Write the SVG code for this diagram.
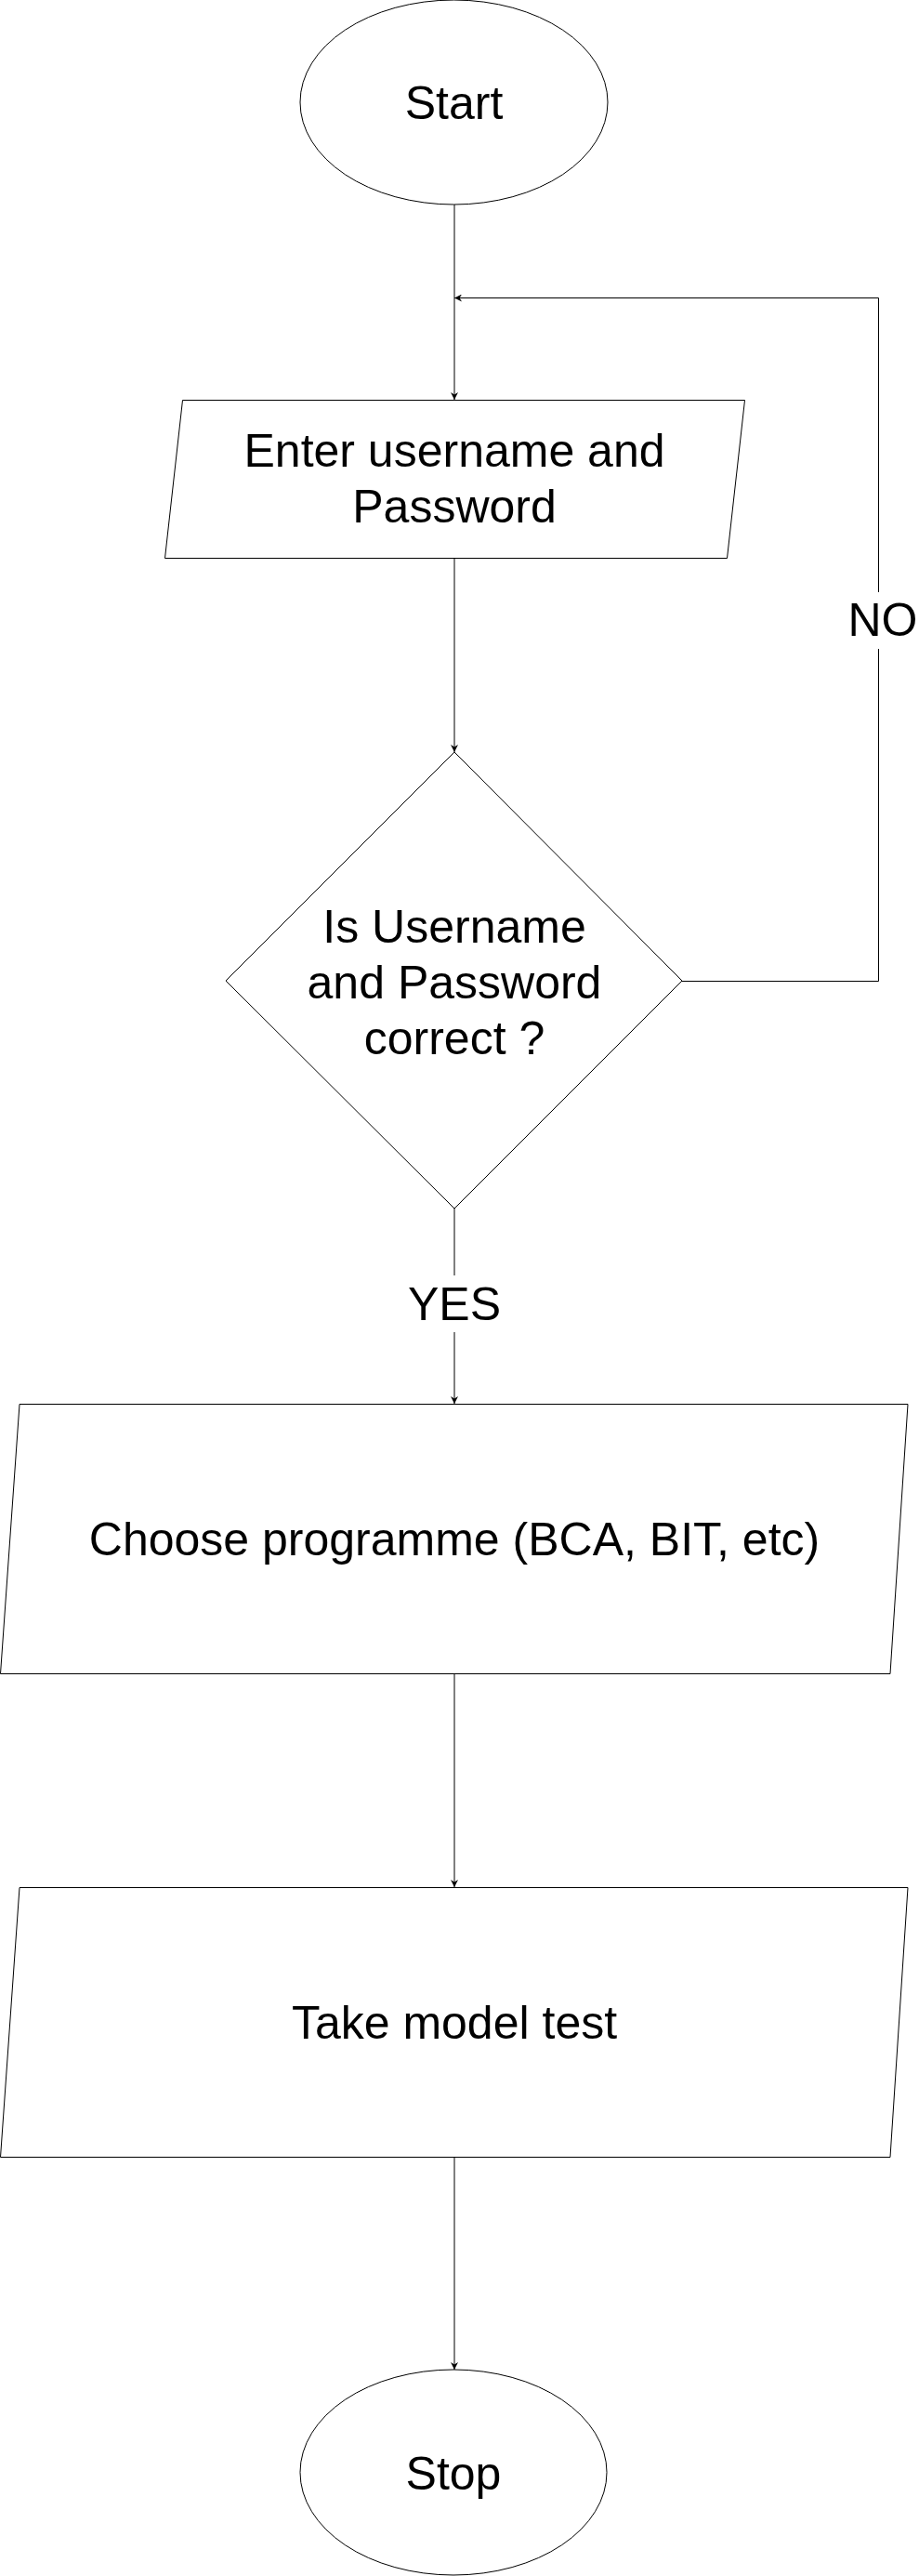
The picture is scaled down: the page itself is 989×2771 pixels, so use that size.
<svg xmlns="http://www.w3.org/2000/svg" width="989" height="2771" viewBox="0 0 989 2771">
<style>
.shape{fill:#fff;stroke:#000;stroke-width:1}
.lbl{font-family:"Liberation Sans",Arial,sans-serif;font-size:50px;fill:#000;text-anchor:middle}
.conn{fill:none;stroke:#000;stroke-width:1}
</style>
<defs>
<marker id="arr" viewBox="0 0 10 10" refX="10" refY="5" markerWidth="8" markerHeight="8" markerUnits="userSpaceOnUse" orient="auto">
<path d="M0,0 L10,5 L0,10 L3,5 Z" fill="#000"/>
</marker>
</defs>
<rect width="989" height="2771" fill="#fff"/>
<g id="connectors">
<line class="conn" x1="489" y1="220" x2="489" y2="430" marker-end="url(#arr)"/>
<line class="conn" x1="489" y1="600" x2="489" y2="809" marker-end="url(#arr)"/>
<polyline class="conn" points="734,1055.5 945.5,1055.5 945.5,698"/>
<polyline class="conn" points="945.5,637 945.5,320.5 489,320.5" marker-end="url(#arr)"/>
<line class="conn" x1="489" y1="1300" x2="489" y2="1372"/>
<line class="conn" x1="489" y1="1433" x2="489" y2="1510" marker-end="url(#arr)"/>
<line class="conn" x1="489" y1="1800" x2="489" y2="2030" marker-end="url(#arr)"/>
<line class="conn" x1="489" y1="2320" x2="489" y2="2549" marker-end="url(#arr)"/>
<text class="lbl" x="950" y="684">NO</text>
<text class="lbl" x="489" y="1420">YES</text>
</g>
<g id="start">
<ellipse class="shape" cx="488.5" cy="110" rx="165.5" ry="110"/>
<text class="lbl" x="488.5" y="128">Start</text>
</g>
<g id="enter">
<polygon class="shape" points="196.5,430.5 801.5,430.5 782.5,600.5 177.5,600.5"/>
<text class="lbl" x="489" y="502">Enter username and</text>
<text class="lbl" x="489" y="562">Password</text>
</g>
<g id="decision">
<polygon class="shape" points="489,809 734,1055 489,1300 243,1055"/>
<text class="lbl" x="489" y="1014">Is Username</text>
<text class="lbl" x="489" y="1074">and Password</text>
<text class="lbl" x="489" y="1134">correct ?</text>
</g>
<g id="choose">
<polygon class="shape" points="21,1510.5 977,1510.5 958,1800.5 0.5,1800.5"/>
<text class="lbl" x="489" y="1673">Choose programme (BCA, BIT, etc)</text>
</g>
<g id="test">
<polygon class="shape" points="21,2030.5 977,2030.5 958,2320.5 0.5,2320.5"/>
<text class="lbl" x="489" y="2193">Take model test</text>
</g>
<g id="stop">
<ellipse class="shape" cx="488" cy="2659.5" rx="165" ry="110.5"/>
<text class="lbl" x="488" y="2678">Stop</text>
</g>
</svg>
